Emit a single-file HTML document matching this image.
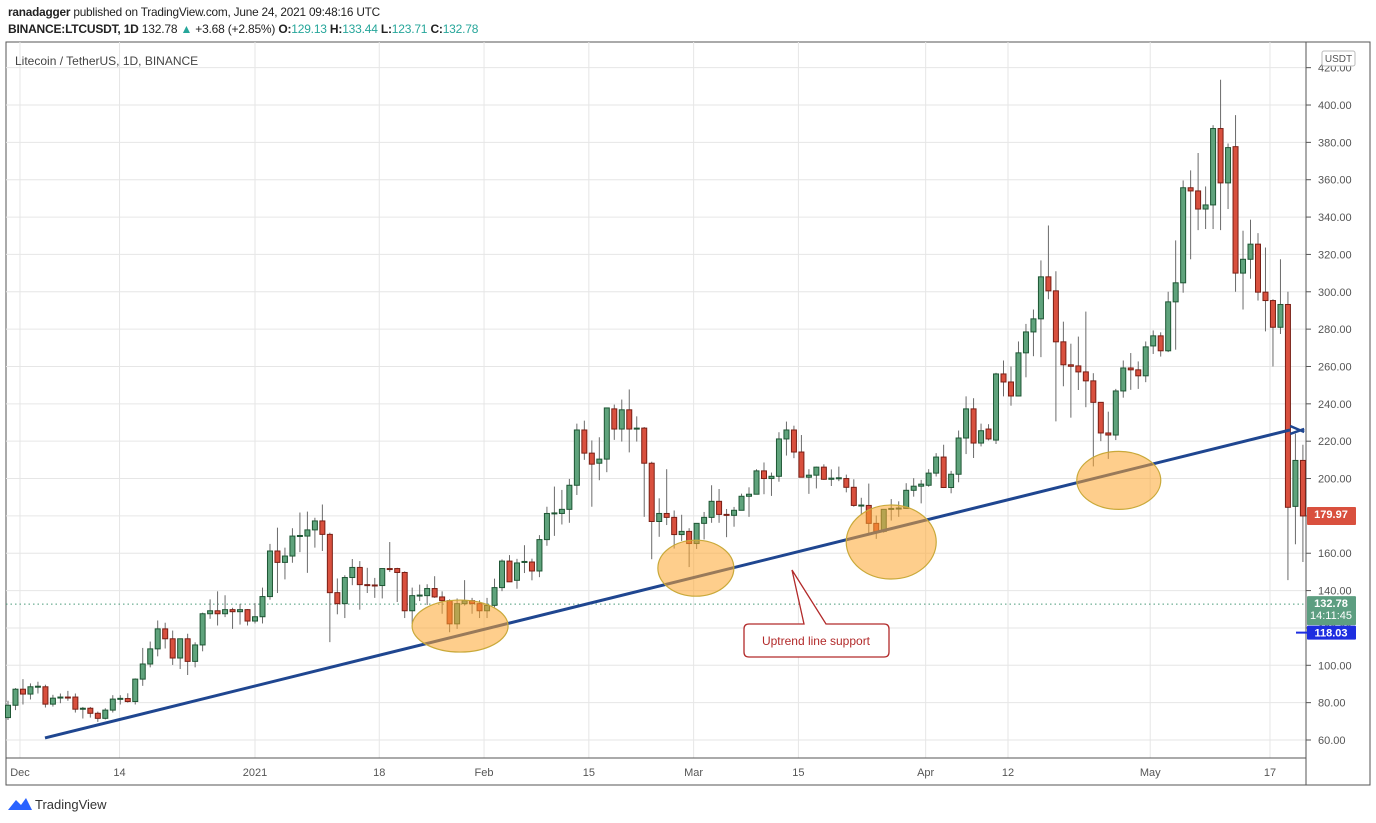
<!DOCTYPE html>
<html><head><meta charset="utf-8"><style>
body{margin:0;width:1376px;height:823px;background:#fff;font-family:"Liberation Sans",sans-serif;overflow:hidden;position:relative}
.hdr{position:absolute;left:8px;font-size:12px;color:#222;white-space:nowrap;letter-spacing:-0.2px}
.t{color:#26a69a}
</style></head><body>
<div class="hdr" style="top:5px;font-size:11.8px"><b>ranadagger</b> published on TradingView.com, June 24, 2021 09:48:16 UTC</div>
<div class="hdr" style="top:22px"><b>BINANCE:LTCUSDT, 1D</b> 132.78 <span class="t">▲</span> +3.68 (+2.85%) <b>O:</b><span class="t">129.13</span> <b>H:</b><span class="t">133.44</span> <b>L:</b><span class="t">123.71</span> <b>C:</b><span class="t">132.78</span></div>
<svg id="c" width="1376" height="823" style="position:absolute;left:0;top:0"></svg>
<script>
const opens=[72,78.6,87.2,84.6,88.5,88.5,79.2,82.6,83,83,76.5,77,74.3,71.6,76,81.9,82.2,80.6,92.6,100.7,108.8,119.5,114.2,103.9,114.2,102.1,110.9,127.6,129.2,127.6,129.8,128.7,129.8,123.7,126,136.8,161.2,155.1,158.5,169.2,169.2,172.5,177.3,170.1,138.9,133,147,152.4,143.2,143,142.7,151.8,151.8,149.7,129.2,137.3,137.3,141.1,136.6,134.6,122.2,133,134.6,133,129.2,132.1,141.6,155.8,145.5,155.3,155.3,150.5,167.3,181.3,181.3,183.5,196.4,226,213.6,208.2,210.4,237.3,226.5,236.8,226.5,227,208.2,177,181.3,179.2,170,171.7,165.2,176,179.2,187.8,180.8,180.3,183,190.5,191.6,204.1,200,201.2,221.2,226,214.2,200.7,201.8,206.1,199.6,200.2,200,195.3,185.6,185.6,176,171.7,183.5,184,184,193.7,195.9,196.4,202.9,211.5,195.2,202.3,221.7,237.3,219,226.5,220.6,256,251.7,244.2,267.3,278.5,285.5,308,300.5,273.2,260.9,260.3,257.1,252.3,240.8,224.4,223.3,246.9,259.2,258.2,255,271,276.4,268.4,294.6,304.8,355.7,354,344.3,346.5,387.4,358.3,377.7,310,317.4,325.5,299.8,295.3,281,293.2,185.1,209.7];
const highs=[81,87.8,92.6,90.3,91.2,89.6,84.2,84.9,86.3,84.9,77.7,77.7,75.2,77,84,84,85,93,109.3,112.7,124,122.8,118.6,114.2,116.9,112.3,128.2,135.3,139.6,137.5,130.8,132.9,130.1,133.3,141.6,165,173.7,163,173.4,181.8,182.3,179,186.1,171,146.5,148.2,156.9,155.8,152.2,146.8,150.3,166,152.2,150.3,141.6,143.2,143.4,147.7,139.6,135.3,135.8,145.6,136.1,134.8,136.1,146.4,156.7,159,157,164.3,157.1,169.7,184.9,195.7,193.9,199.8,229.4,231,220.4,222.1,238,239.6,242.3,247.7,233.3,227.6,209,189.4,205,182.9,180.6,173.4,175.8,182.1,196.4,194.4,183.7,184.8,191.9,195.3,205,208.6,203.2,224.8,230.5,228.3,223.3,205,206.4,207.6,204.9,206.4,202.1,199.6,189.7,197.3,180.2,183.5,189,187.8,197.5,200.2,199.3,205,213.6,218.1,204.1,225.7,244,243,229.4,229.1,256.6,263.2,260,273.4,282.8,290.5,316.8,335.5,311,284,272.2,276,289.4,256.4,241,235.8,248,263.2,267.2,262.7,273.4,279.3,278.3,300,327.5,359.6,365,374.3,356.4,389.2,413.5,379.4,394.6,332.7,338.6,331.4,323.7,296,317.4,300,224,218.1];
const lows=[70.7,76,79,81.7,84.9,77.4,77.9,79.7,81,74.7,71.5,72,69.7,71,74.7,79,80,79,89,98.9,104.8,109,100.2,98,94.8,98.9,107.5,124.9,121.3,125.8,119.5,121.8,121.3,122.4,122.4,135.1,138.7,146,154.9,160.6,149.5,163,161.2,112.4,127.3,125.3,142.9,129.8,138.7,136.1,135.8,150,133.9,125.3,122.2,134.4,132.3,136.1,127.6,117.7,119.5,132,127.6,125.3,125.3,131,139.7,145,141,149.4,145.5,147.2,164,169.3,175.4,176.3,191.2,210,184.9,199.1,203.4,220.7,219.8,214,219.8,179.5,156.8,168.8,175.1,162.5,166.6,152.6,162.3,167.4,176.3,176.3,168.6,174.2,182.9,179.5,191.6,191.6,190.7,198.3,212.3,210.9,202.2,191.8,194.7,199.3,196,198.6,192.6,184.9,180.6,170.4,167.7,171,177.5,179.5,184,190.3,186.7,195.6,201.1,194.9,192.1,198,213.1,211,217.2,220.4,218.5,244,239,244,254.2,265.5,265,296,230.6,249.4,232.6,247.4,238.2,206.5,220,210.5,220.6,243.3,247.5,248,251.6,266.7,265.3,267.7,269,299.5,317.4,333,333.6,333.6,333,344.3,300,290.5,307,295.3,278.8,260,277.4,145.6,164.8,155.3];
const closes=[78.6,87.2,84.6,88.5,88.8,79.2,82.4,83,82.6,76.5,77,74.3,71.6,76,81.9,82.3,80.6,92.6,100.7,108.8,119.5,114.2,103.9,114.2,102.1,110.9,127.6,129.2,127.6,129.8,128.7,129.8,123.7,126,136.8,161.2,155.1,158.5,169.2,169.5,172.5,177.3,170.1,138.9,133,147,152.4,143.2,142.9,142.7,151.8,151.5,149.7,129.2,137.3,137.6,141.1,136.6,134.6,122.2,133,134.6,133,129.2,132.1,141.6,155.8,144.7,154.8,155.6,150.5,167.3,181.3,181.6,183.5,196.4,226,213.6,207.7,210.4,237.8,226.5,236.8,226.5,227,208.2,177,181.3,179.2,170,171.7,165.2,176,179.2,187.8,180.8,180.3,183,190.5,191.6,204.1,200,201.2,221.2,226,214.2,200.7,201.8,206.1,199.6,200.2,200.4,195.3,185.6,185.8,176,171.7,183.5,184,184.2,193.7,195.9,197,202.9,211.5,195.2,202.3,221.7,237.3,219,225.6,221.2,256,251.7,244.2,267.3,278.5,285.5,308,300.5,273.2,260.9,260.1,257.1,252.3,240.8,224.4,223.3,246.9,259.2,258.2,255,270.5,276.4,268.4,294.6,304.8,355.7,354,344.3,346.5,387.4,358.3,377.2,310,317.4,325.5,299.8,295.3,281,293.2,184.6,209.7,179.97];
const yTicks=[60,80,100,120,140,160,180,200,220,240,260,280,300,320,340,360,380,400,420];
const xTickIdx=[1.6,14.9,33,49.6,63.6,77.6,91.6,105.6,122.6,133.6,152.6,168.6];
const xTickLabels=["Dec","14","2021","18","Feb","15","Mar","15","Apr","12","May","17"];
const trendStart=[4.94,61.1], trendEnd=[171.3,226];
const lastPrice=132.78, curPrice=179.97, alertPrice=118.03;
const ellipses=[[60.4,121,48,26],[91.9,152,38,28],[118,166,45,37],[148.4,199,42,29]];

const svg=document.getElementById('c');const NS='http://www.w3.org/2000/svg';
const X=i=>8+i*7.485, Y=p=>740-(p-60)*1.8676;
function mk(t,a,p){const e=document.createElementNS(NS,t);for(const k in a)e.setAttribute(k,a[k]);(p||svg).appendChild(e);return e;}
let e=mk('rect',{x:6,y:42,width:1364,height:743,fill:'none',stroke:'#555','stroke-width':1});


yTicks.forEach(p=>{const y=Y(p);
 let g=mk('line',{x1:6,x2:1306,y1:y,y2:y,stroke:'#e6e6e6'});
 
 
 let tk=mk('line',{x1:1306,x2:1311,y1:y,y2:y,stroke:'#555'});
 
 
 let t=mk('text',{x:1318,y:y+4,'font-size':11,fill:'#555','font-family':'Liberation Sans'});t.textContent=p.toFixed(2);
 
 
});
xTickIdx.forEach((i,k)=>{const x=X(i);
 let g=mk('line',{x1:x,x2:x,y1:42,y2:758,stroke:'#e6e6e6'});
 
 
 let t=mk('text',{x:x,y:776,'font-size':11,fill:'#555','text-anchor':'middle','font-family':'Liberation Sans'});t.textContent=xTickLabels[k];
 
 
});
e=mk('line',{x1:1306,x2:1306,y1:42,y2:785,stroke:'#555'});


e=mk('line',{x1:6,x2:1306,y1:758,y2:758,stroke:'#555'});


e=mk('line',{x1:6,x2:1306,y1:Y(lastPrice),y2:Y(lastPrice),stroke:'#4a9a7a','stroke-dasharray':'1.5,3'});


opens.forEach((o,i)=>{const c=closes[i],up=c>=o,x=X(i);
 let w=mk('line',{x1:x,x2:x,y1:Y(highs[i]),y2:Y(lows[i]),stroke:'#6b6b6b'});
 
 
 const top=Y(Math.max(o,c)),h=Math.max(1,Y(Math.min(o,c))-top);
 let b=mk('rect',{x:x-2.5,y:top,width:5,height:h,fill:up?'#5fa37c':'#d9503e',stroke:up?'#1e5634':'#7a1f15','stroke-width':1});
 
 
});
e=mk('line',{x1:X(trendStart[0]),y1:Y(trendStart[1]),x2:X(trendEnd[0]),y2:Y(trendEnd[1]),stroke:'#1f4690','stroke-width':3});


const ex=X(trendEnd[0]),ey=Y(trendEnd[1]);
e=mk('path',{d:`M${ex} ${ey-4}L${ex+14} ${ey+2}M${ex} ${ey+4}L${ex+14} ${ey-1}`,stroke:'#1f4690','stroke-width':2.5,fill:'none'});


ellipses.forEach(a=>{let el=mk('ellipse',{cx:X(a[0]),cy:Y(a[1]),rx:a[2],ry:a[3],fill:'rgba(253,166,45,0.55)',stroke:'#c9a93a','stroke-width':1.2});
 
 
});
e=mk('path',{d:'M749 624 H804 L792 570 L826 624 H884 Q889 624 889 629 V652 Q889 657 884 657 H749 Q744 657 744 652 V629 Q744 624 749 624Z',fill:'#fff',stroke:'#b22a2a','stroke-width':1.3});


e=mk('text',{x:816,y:645,'font-size':12,fill:'#b22a2a','text-anchor':'middle','font-family':'Liberation Sans'});e.textContent='Uptrend line support';


function lab(y,h,bg,txt,name){let r=mk('rect',{x:1307,y:y,width:49,height:h,fill:bg,rx:1});
 
 
 txt.forEach((s,k)=>{let t=mk('text',{x:1331,y:y+11+k*12,'font-size':11,fill:'#fff','text-anchor':'middle','font-family':'Liberation Sans','font-weight':k==0?'bold':'normal'});t.textContent=s;
 
 });}
lab(Y(curPrice)-9,18,'#d9503e',[curPrice.toFixed(2)],'current-price-label');
lab(Y(lastPrice)-8,29,'#5d9e81',[lastPrice.toFixed(2),'14:11:45'],'last-price-label');
lab(Y(alertPrice)-6,14,'#1d2ee0',[alertPrice.toFixed(2)],'alert-price-label');
e=mk('line',{x1:1296,x2:1307,y1:Y(alertPrice)+1,y2:Y(alertPrice)+1,stroke:'#1d2ee0','stroke-width':2});


e=mk('rect',{x:1322,y:51,width:33,height:15,fill:'#fff',stroke:'#bbb',rx:2});


e=mk('text',{x:1338.5,y:62,'font-size':10,fill:'#555','text-anchor':'middle','font-family':'Liberation Sans'});e.textContent='USDT';


e=mk('text',{x:15,y:65,'font-size':12,fill:'#444','font-family':'Liberation Sans'});e.textContent='Litecoin / TetherUS, 1D, BINANCE';


e=mk('path',{d:'M8 810 L16 800 L21 805 L26 798 L32 810Z',fill:'#2962ff'});


e=mk('text',{x:35,y:809,'font-size':13,fill:'#333','font-family':'Liberation Sans'});e.textContent='TradingView';


</script>
</body></html>
